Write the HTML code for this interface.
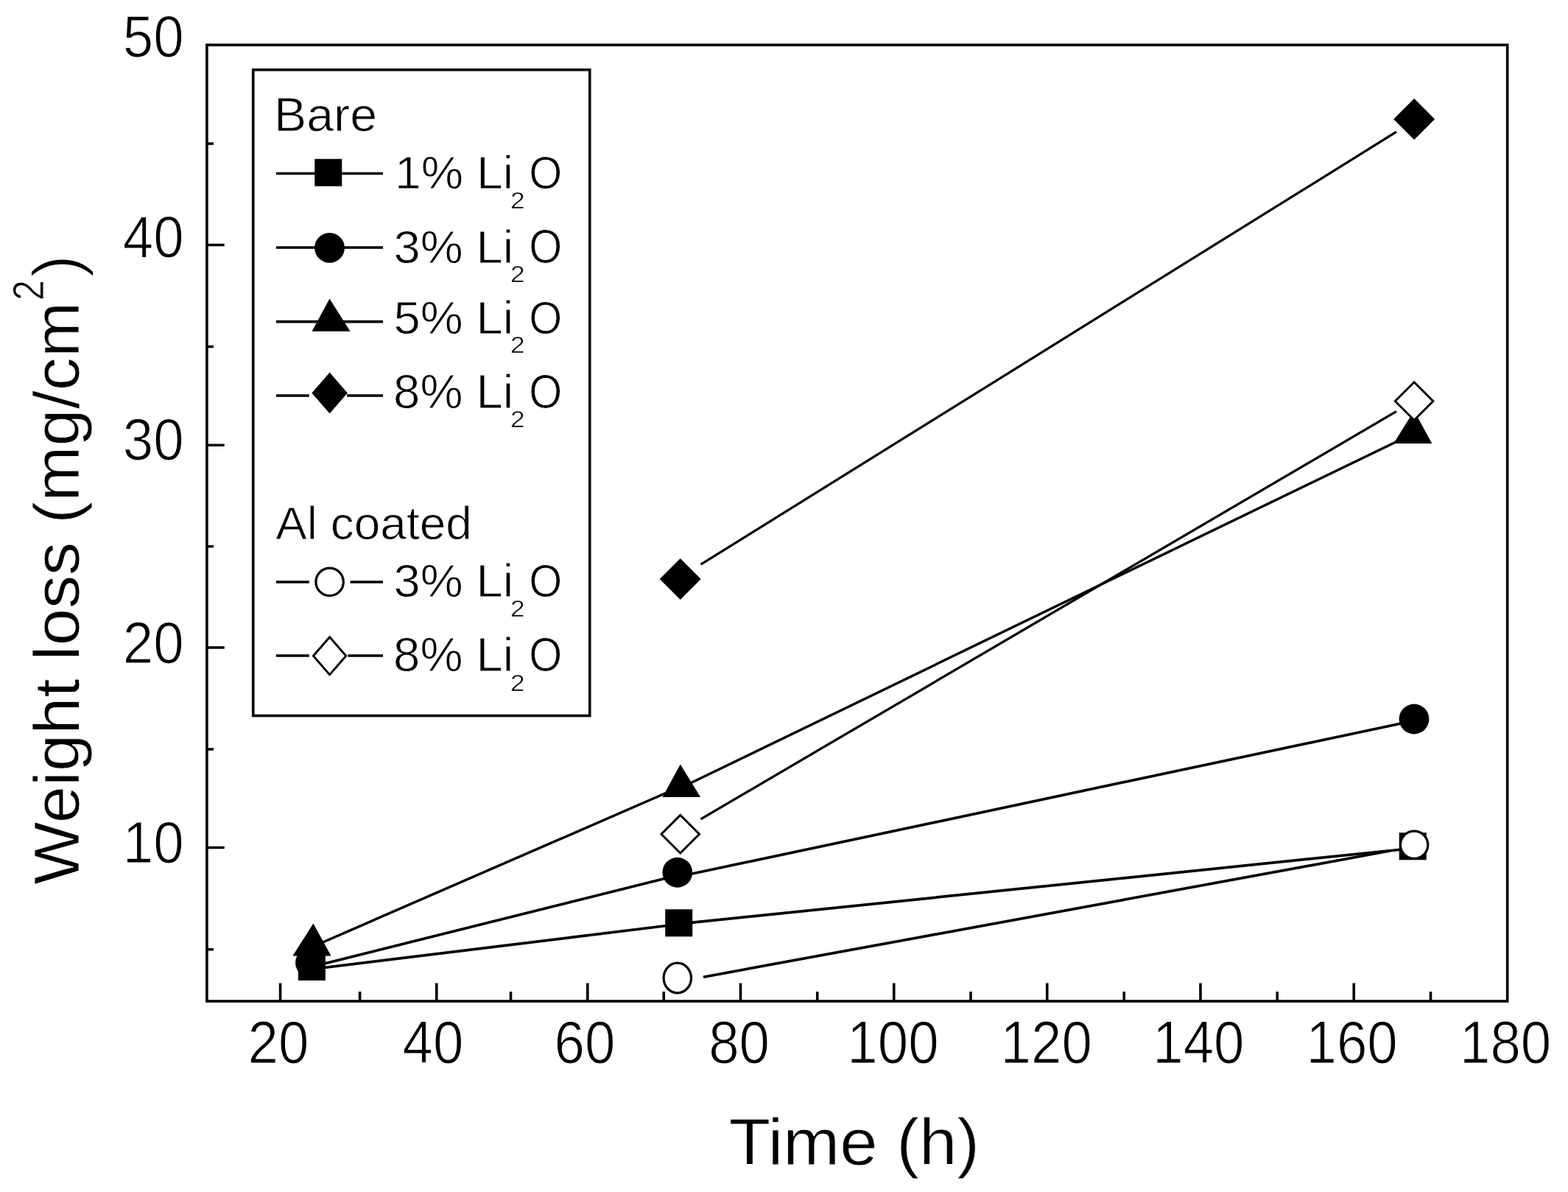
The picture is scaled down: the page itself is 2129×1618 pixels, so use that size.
<!DOCTYPE html>
<html lang="en"><head><meta charset="utf-8"><title>Weight loss</title>
<style>
html,body{margin:0;padding:0;background:#fff;}
body{width:2129px;height:1618px;overflow:hidden;}
svg{display:block;font-family:"Liberation Sans", sans-serif;fill:#000;}
.ax{stroke:#000;stroke-width:3.6;fill:none;}
.ln{stroke:#000;stroke-width:3.4;fill:none;}
.mk{fill:#000;stroke:none;}
.op{fill:#fff;stroke:#000;stroke-width:3.2;}
text{fill:#000;stroke:none;}
.t{stroke:#fff;vector-effect:non-scaling-stroke;stroke-linejoin:round;}
</style></head><body>
<svg width="2129" height="1618" viewBox="0 0 2129 1618">
<rect x="0" y="0" width="2129" height="1618" fill="#fff"/>
<rect class="ax" x="280.9" y="61.0" width="1765.8" height="1298.0"/>
<path class="ax" d="M380.6 1359.0V1334.5M592.75 1359.0V1334.5M797.8 1359.0V1334.5M1005.5 1359.0V1334.5M1213.75 1359.0V1334.5M1421.75 1359.0V1334.5M1630 1359.0V1334.5M1838.25 1359.0V1334.5M488.6 1359.0V1346.0M693.5 1359.0V1346.0M901.25 1359.0V1346.0M1109.75 1359.0V1346.0M1318 1359.0V1346.0M1526.25 1359.0V1346.0M1734.25 1359.0V1346.0M1942.5 1359.0V1346.0M280.9 332.5H304.7M280.9 604.25H304.7M280.9 879H304.7M280.9 1150.5H304.7M280.9 195H289.9M280.9 470.5H289.9M280.9 741.75H289.9M280.9 1017H289.9M280.9 1288.75H289.9"/>
<g id="yticks">
<text class="t" stroke-width="1.2" transform="matrix(0.9550 0 0 1.0238 166.72 77.30)" font-size="78">50</text>
<text class="t" stroke-width="1.2" transform="matrix(0.9550 0 0 1.0148 166.72 348.56)" font-size="78">40</text>
<text class="t" stroke-width="1.2" transform="matrix(0.9550 0 0 1.0238 166.72 624.30)" font-size="78">30</text>
<text class="t" stroke-width="1.2" transform="matrix(0.9550 0 0 1.0329 166.72 899.79)" font-size="78">20</text>
<text class="t" stroke-width="1.2" transform="matrix(0.9550 0 0 1.0238 166.72 1170.80)" font-size="78">10</text>
</g>
<g id="xticks">
<text class="t" stroke-width="1.2" transform="matrix(0.9550 0 0 1.0374 336.60 1442.54)" font-size="78">20</text>
<text class="t" stroke-width="1.2" transform="matrix(0.9550 0 0 1.0374 546.53 1442.54)" font-size="78">40</text>
<text class="t" stroke-width="1.2" transform="matrix(0.9550 0 0 1.0374 752.60 1442.54)" font-size="78">60</text>
<text class="t" stroke-width="1.2" transform="matrix(0.9550 0 0 1.0374 962.16 1442.54)" font-size="78">80</text>
<text class="t" stroke-width="1.2" transform="matrix(0.9550 0 0 1.0374 1150.37 1442.54)" font-size="78">100</text>
<text class="t" stroke-width="1.2" transform="matrix(0.9550 0 0 1.0374 1358.62 1442.54)" font-size="78">120</text>
<text class="t" stroke-width="1.2" transform="matrix(0.9550 0 0 1.0374 1565.25 1442.54)" font-size="78">140</text>
<text class="t" stroke-width="1.2" transform="matrix(0.9550 0 0 1.0374 1773.50 1442.54)" font-size="78">160</text>
<text class="t" stroke-width="1.2" transform="matrix(0.9550 0 0 1.0374 1982.00 1442.54)" font-size="78">180</text>
</g>
<text class="t" stroke-width="0.8" transform="matrix(1.0264 0 0 0.9840 989.79 1580.80)" font-size="90">Time (h)</text>
<g transform="translate(107.5 1200) rotate(-90)">
<text class="t" stroke-width="0.8" transform="matrix(1.0035 0 0 0.9661 -0.85 -0.36)" font-size="90">Weight loss (mg/cm</text>
<text class="t" stroke-width="0.8" transform="matrix(0.8545 0 0 1.0296 792.37 -48.10)" font-size="58">2</text>
<text class="t" stroke-width="2.0" transform="matrix(1.0470 0 0 1.0160 823.06 0.30)" font-size="90">)</text>
</g>
<g id="data">
<path class="ln" style="stroke-width:3.72" d="M423.4 1315.5L921.6 1254.5"/>
<path class="ln" style="stroke-width:3.73" d="M921.6 1254.1L1918.25 1151.5"/>
<rect class="mk" x="404.90" y="1293.90" width="37" height="37"/>
<rect class="mk" x="903.20" y="1234.30" width="37" height="37"/>
<rect class="mk" x="1899.75" y="1130.25" width="37" height="37"/>
<path class="ln" style="stroke-width:3.64" d="M421.5 1312.7L919.6 1188.2"/>
<path class="ln" style="stroke-width:3.67" d="M919.6 1190.3L1920 978.2"/>
<circle class="mk" cx="421.5" cy="1306.8" r="20.4"/>
<circle class="mk" cx="919.8" cy="1184.25" r="20.4"/>
<circle class="mk" cx="1920" cy="976" r="20.4"/>
<path class="ln" style="stroke-width:3.44" d="M423.5 1285.5L923.5 1068"/>
<path class="ln" style="stroke-width:3.38" d="M923.5 1069.8L1919 588.4"/>
<path class="mk" d="M425.4 1253.6L449.6 1297.5H397.4Z"/>
<path class="mk" d="M923.75 1037.4L951.1 1081.9H899.5Z"/>
<path class="mk" d="M1920 557.5L1944.3 601.9H1892.2Z"/>
<path class="ln" style="stroke-width:3.18" d="M951.5 766.2L1896 178.9"/>
<path class="mk" d="M923.7 758.00L951.70 786L923.7 814.00L895.70 786Z"/>
<path class="mk" d="M1920.1 133.70L1948.10 161.7L1920.1 189.70L1892.10 161.7Z"/>
<path class="ln" style="stroke-width:3.69" d="M955 1326.2L1888 1154.8"/>
<ellipse class="op" cx="919.8" cy="1327.5" rx="18.7" ry="20.4"/>
<ellipse class="op" cx="1920.1" cy="1146.75" rx="18.7" ry="18.7"/>
<path class="ln" style="stroke-width:3.24" d="M951.5 1111.8L1896 558.4"/>
<path class="op" style="stroke-width:2.9" d="M923.7 1106.40L949.50 1132.2L923.7 1158.00L897.90 1132.2Z"/>
<path class="op" style="stroke-width:2.9" d="M1920.1 518.70L1945.90 544.5L1920.1 570.30L1894.30 544.5Z"/>
</g>
<g id="legend">
<rect class="ax" x="343.75" y="94.75" width="457.00" height="876.75" style="fill:#fff"/>
<text class="t" stroke-width="0.9" transform="matrix(1.0356 0 0 1.0022 372.05 177.81)" font-size="64">Bare</text>
<text class="t" stroke-width="0.9" transform="matrix(0.9990 0 0 0.9758 374.23 732.33)" font-size="64">Al coated</text>
<path class="ax" d="M375 235.5H520"/>
<rect class="mk" x="427.25" y="215.75" width="37" height="37"/>
<g><text class="t" stroke-width="0.9" transform="matrix(1.0073 0 0 0.9878 535.96 256.38)" font-size="64">1% Li</text><text class="t" stroke-width="0.5" transform="matrix(1.0989 0 0 1.0045 692.99 282.50)" font-size="32">2</text><text class="t" stroke-width="0.9" transform="matrix(0.9044 0 0 0.9826 718.20 256.07)" font-size="64">O</text></g>
<path class="ax" d="M375 336.0H520"/>
<circle class="mk" cx="447.5" cy="336.4" r="20.4"/>
<g><text class="t" stroke-width="0.9" transform="matrix(1.0171 0 0 0.9970 534.45 356.81)" font-size="64">3% Li</text><text class="t" stroke-width="0.5" transform="matrix(1.0989 0 0 1.0045 692.99 383.25)" font-size="32">2</text><text class="t" stroke-width="0.9" transform="matrix(0.9044 0 0 0.9991 718.20 356.81)" font-size="64">O</text></g>
<path class="ax" d="M375 436.6H520"/>
<path class="mk" d="M447.5 405.5L475.5 449.75H423.5Z"/>
<g><text class="t" stroke-width="0.9" transform="matrix(1.0171 0 0 0.9917 534.45 452.82)" font-size="64">5% Li</text><text class="t" stroke-width="0.5" transform="matrix(1.0989 0 0 1.0045 692.99 479.25)" font-size="32">2</text><text class="t" stroke-width="0.9" transform="matrix(0.9044 0 0 0.9936 718.20 452.81)" font-size="64">O</text></g>
<path class="ax" d="M375 537.0H419.75M471.0 537.0H520"/>
<path class="mk" d="M447.6 505.60L471.80 533.4L447.6 561.20L423.40 533.4Z"/>
<g><text class="t" stroke-width="0.9" transform="matrix(1.0192 0 0 1.0023 534.11 553.56)" font-size="64">8% Li</text><text class="t" stroke-width="0.5" transform="matrix(1.0989 0 0 1.0045 692.99 580.00)" font-size="32">2</text><text class="t" stroke-width="0.9" transform="matrix(0.9044 0 0 1.0046 718.20 553.56)" font-size="64">O</text></g>
<path class="ax" d="M375 790.0H419.75M475.6 790.0H520"/>
<ellipse class="op" cx="447.6" cy="789.9" rx="18.7" ry="18.7"/>
<g><text class="t" stroke-width="0.9" transform="matrix(1.0171 0 0 0.9917 534.45 810.07)" font-size="64">3% Li</text><text class="t" stroke-width="0.5" transform="matrix(1.0989 0 0 1.0045 692.99 836.50)" font-size="32">2</text><text class="t" stroke-width="0.9" transform="matrix(0.9044 0 0 0.9936 718.20 810.06)" font-size="64">O</text></g>
<path class="ax" d="M375 890.0H419.75M472.5 890.0H520"/>
<path class="op" style="stroke-width:2.9" d="M447.6 864.70L469.80 890.3L447.6 915.90L425.40 890.3Z"/>
<g><text class="t" stroke-width="0.9" transform="matrix(1.0192 0 0 1.0023 534.11 911.06)" font-size="64">8% Li</text><text class="t" stroke-width="0.5" transform="matrix(1.0989 0 0 1.0045 692.99 937.50)" font-size="32">2</text><text class="t" stroke-width="0.9" transform="matrix(0.9044 0 0 1.0046 718.20 911.06)" font-size="64">O</text></g>
</g>
</svg></body></html>
